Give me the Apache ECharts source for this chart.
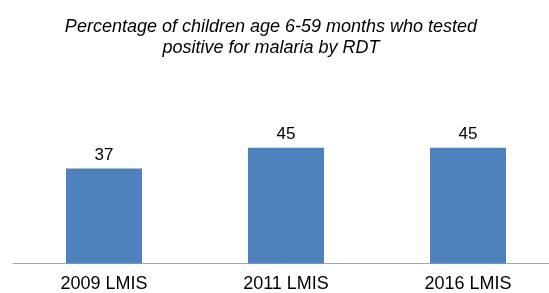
<!DOCTYPE html>
<html><head><meta charset="utf-8">
<script src="https://cdn.jsdelivr.net/npm/echarts@6/dist/echarts.min.js"></script>
<style>html,body{margin:0;padding:0;background:#fff}#c{width:549px;height:293px}</style>
</head><body><div id="c"></div>
<script>
const categories = ['2009 LMIS', '2011 LMIS', '2016 LMIS'];
const values = [37, 45, 45];
const titleText = 'Percentage of children age 6-59 months who tested\npositive for malaria by RDT';

const chart = echarts.init(document.getElementById('c'), null, {renderer: 'canvas'});
chart.setOption({
  animation: false,
  backgroundColor: '#fff',
  title: {
    text: titleText,
    left: 266, top: 11,
    textAlign: 'center',
    textStyle: {fontFamily: 'Liberation Sans, Arial, sans-serif', fontStyle: 'italic', fontWeight: 'normal', fontSize: 18, lineHeight: 21, color: '#000'}
  },
  grid: {left: 13, width: 546, top: 135, bottom: 29.5, containLabel: false, outerBoundsMode: 'none'},
  xAxis: {
    type: 'category', data: categories,
    axisLine: {lineStyle: {color: '#A6A6A6', width: 1}},
    axisTick: {show: false},
    axisLabel: {fontFamily: 'Liberation Sans, Arial, sans-serif', fontSize: 18, color: '#000', margin: 12}
  },
  yAxis: {type: 'value', min: 0, max: 50, show: false, splitLine: {show: false}},
  series: [{
    type: 'bar', data: values, barWidth: 76,
    itemStyle: {color: '#4F81BD'},
    label: {show: true, position: 'top', distance: 5, fontFamily: 'Liberation Sans, Arial, sans-serif', fontSize: 17, color: '#000'}
  }]
});
</script></body></html>
